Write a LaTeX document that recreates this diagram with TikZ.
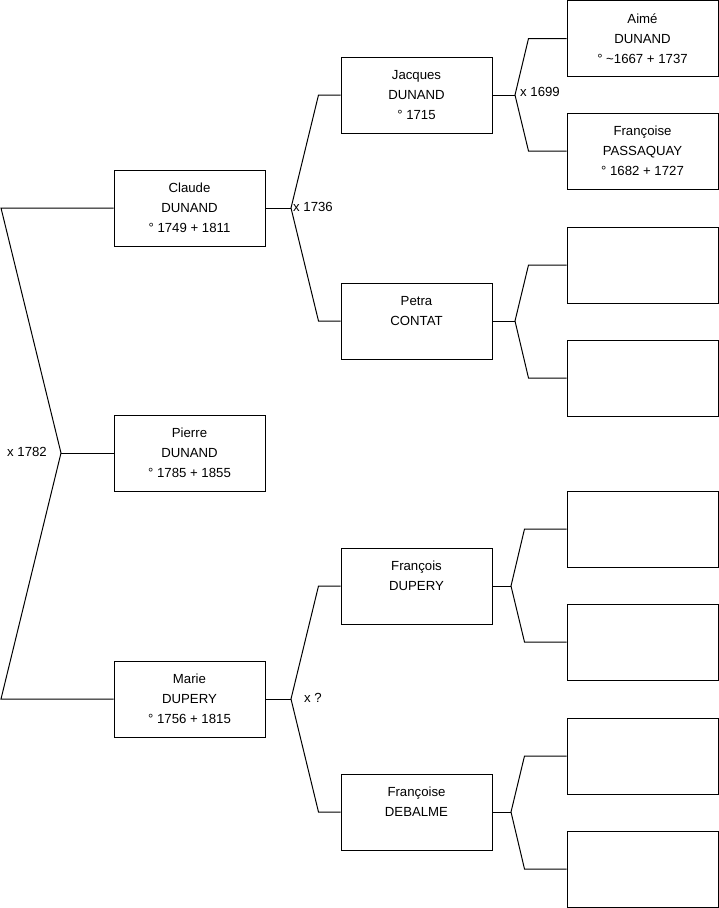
\documentclass[tikz,border=0pt]{standalone}
\usepackage{fontspec}
\setmainfont{Liberation Sans}
\begin{document}
\begin{tikzpicture}[x=1pt,y=-1pt,
  person/.style={draw=black,line width=1pt,minimum width=151pt,minimum height=76pt,inner sep=0pt,align=center,
    font=\fontsize{13.2pt}{20pt}\selectfont},
  link/.style={draw=black,line width=1pt},
  lbl/.style={inner sep=0pt,font=\fontsize{13.2pt}{15pt}\selectfont}]
\useasboundingbox (0,0) rectangle (719,908);
% generation 1
\node[person] (pierre) at (189.5,453) {Pierre\\DUNAND\\° 1785 + 1855};
% generation 2
\node[person] (claude) at (189.5,208) {Claude\\DUNAND\\° 1749 + 1811};
\node[person] (marie) at (189.5,699) {Marie\\DUPERY\\° 1756 + 1815};
% generation 3
\node[person] (jacques) at (416.5,95) {Jacques\\DUNAND\\° 1715};
\node[person] (petra) at (416.5,321) {Petra\\CONTAT\\\mbox{}};
\node[person] (francois) at (416.5,586) {François\\DUPERY\\\mbox{}};
\node[person] (francoised) at (416.5,812) {Françoise\\DEBALME\\\mbox{}};
% generation 4
\node[person] (aime) at (642.5,38.5) {Aimé\\DUNAND\\° \textasciitilde1667 + 1737};
\node[person] (francoisep) at (642.5,151) {Françoise\\PASSAQUAY\\° 1682 + 1727};
\node[person] (e1) at (642.5,265) {};
\node[person] (e2) at (642.5,378) {};
\node[person] (e3) at (642.5,529) {};
\node[person] (e4) at (642.5,642) {};
\node[person] (e5) at (642.5,756) {};
\node[person] (e6) at (642.5,869) {};
% junction coordinates
\coordinate (l1) at (1,208);
\coordinate (j0) at (61,453);
\coordinate (l2) at (1,699);
\coordinate (j1) at (291,208);
\coordinate (j2) at (291,699);
\coordinate (j3) at (515,95);
\coordinate (j4) at (515,321);
\coordinate (j5) at (511,586);
\coordinate (j6) at (511,812);
% connectors
\draw[link] (claude.west) -- (l1) -- (j0) -- (l2) -- (marie.west);
\draw[link] (j0) -- (pierre.west);
\draw[link] (claude.east) -- (j1);
\draw[link] (jacques.west) -- ([xshift=-22pt]jacques.west) -- (j1) -- ([xshift=-22pt]petra.west) -- (petra.west);
\draw[link] (marie.east) -- (j2);
\draw[link] (francois.west) -- ([xshift=-22pt]francois.west) -- (j2) -- ([xshift=-22pt]francoised.west) -- (francoised.west);
\draw[link] (jacques.east) -- (j3);
\draw[link] (aime.west) -- ([xshift=-38pt]aime.west) -- (j3) -- ([xshift=-38pt]francoisep.west) -- (francoisep.west);
\draw[link] (petra.east) -- (j4);
\draw[link] (e1.west) -- ([xshift=-38pt]e1.west) -- (j4) -- ([xshift=-38pt]e2.west) -- (e2.west);
\draw[link] (francois.east) -- (j5);
\draw[link] (e3.west) -- ([xshift=-42pt]e3.west) -- (j5) -- ([xshift=-42pt]e4.west) -- (e4.west);
\draw[link] (francoised.east) -- (j6);
\draw[link] (e5.west) -- ([xshift=-42pt]e5.west) -- (j6) -- ([xshift=-42pt]e6.west) -- (e6.west);
% marriage labels
\node[lbl,anchor=east] (m1) at (47,452) {x 1782};
\node[lbl,anchor=west] (m2) at (293,207) {x 1736};
\node[lbl,anchor=west] (m3) at (304,698) {x ?};
\node[lbl,anchor=west] (m4) at (520,92) {x 1699};
\end{tikzpicture}
\end{document}
